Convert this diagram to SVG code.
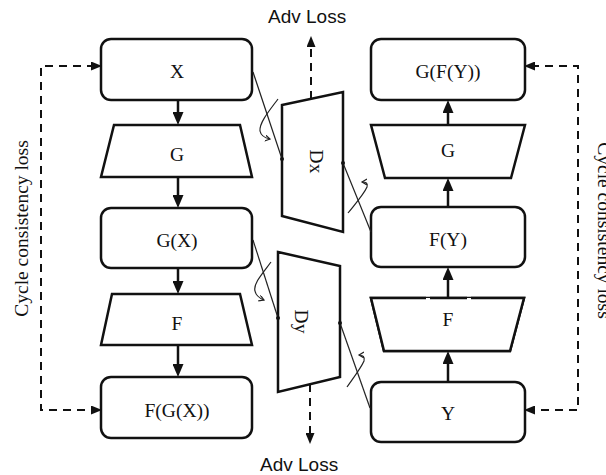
<svg xmlns="http://www.w3.org/2000/svg" width="606" height="475" viewBox="0 0 606 475">
  <style>
    .box { fill: #fff; stroke: #111; stroke-width: 2.5; }
    .lbl { font-family: "Liberation Serif", "Times New Roman", serif; font-size: 19.5px; fill: #111; text-anchor: middle; }
    .adv { font-family: "Liberation Sans", Arial, sans-serif; font-size: 19px; fill: #111; }
    .flow { fill: none; stroke: #111; stroke-width: 2.5; }
    .dash { fill: none; stroke: #111; stroke-width: 2; stroke-dasharray: 8 6; }
    .thin { fill: none; stroke: #222; stroke-width: 1.2; }
    .dot { fill: #111; }
  </style>
  <defs>
    <marker id="solid" markerUnits="userSpaceOnUse" markerWidth="13" markerHeight="11" refX="5" refY="5.5" orient="auto-start-reverse">
      <path d="M0,0 L13,5.5 L0,11 z" fill="#111"/>
    </marker>
    <marker id="dashhead" markerUnits="userSpaceOnUse" markerWidth="11" markerHeight="9" refX="4" refY="4.5" orient="auto-start-reverse">
      <path d="M0,0 L11,4.5 L0,9 z" fill="#111"/>
    </marker>
    <marker id="open" markerUnits="userSpaceOnUse" markerWidth="7" markerHeight="7" refX="5" refY="3" orient="auto">
      <path d="M0,0 L5,3 L0,6" fill="none" stroke="#222" stroke-width="1.2"/>
    </marker>
  </defs>

  <!-- left chain: X -> G -> G(X) -> F -> F(G(X)) -->
  <g id="node-x">
    <rect class="box" x="101" y="39" width="151" height="61" rx="10"/>
    <text class="lbl" x="177" y="78">X</text>
  </g>
  <g id="node-g-left">
    <polygon class="box" points="114,125 240,125 252,177 101,177"/>
    <text class="lbl" x="177" y="161">G</text>
  </g>
  <g id="node-gx">
    <rect class="box" x="101" y="208" width="151" height="60" rx="10"/>
    <text class="lbl" x="177" y="247">G(X)</text>
  </g>
  <g id="node-f-left">
    <polygon class="box" points="112,294 240,294 252,345 101,345"/>
    <text class="lbl" x="177" y="330">F</text>
  </g>
  <g id="node-fgx">
    <rect class="box" x="101" y="377" width="151" height="61" rx="10"/>
    <text class="lbl" x="177" y="417">F(G(X))</text>
  </g>

  <!-- right chain: Y -> F -> F(Y) -> G -> G(F(Y)) -->
  <g id="node-gfy">
    <rect class="box" x="371" y="39" width="154" height="61" rx="10"/>
    <text class="lbl" x="448" y="78">G(F(Y))</text>
  </g>
  <g id="node-g-right">
    <polygon class="box" points="371,125 525,125 511,178 385,178"/>
    <text class="lbl" x="448" y="157">G</text>
  </g>
  <g id="node-fy">
    <rect class="box" x="371" y="207" width="154" height="60" rx="10"/>
    <text class="lbl" x="448" y="246">F(Y)</text>
  </g>
  <g id="node-f-right">
    <polygon class="box" points="384,351 510,351 524,298 371,298" stroke="none"/>
    <path class="box" fill="none" d="M426,298 H371 L384,351 H510 L524,298 H471 M467,298 H430"/>
    <text class="lbl" x="448" y="326">F</text>
  </g>
  <g id="node-y">
    <rect class="box" x="371" y="382" width="154" height="60" rx="10"/>
    <text class="lbl" x="448" y="420">Y</text>
  </g>

  <!-- discriminators -->
  <g id="node-dx">
    <polygon class="box" points="282,105 343,92 343,232 282,216"/>
    <text class="lbl" transform="translate(310,161.5) rotate(90)">Dx</text>
  </g>
  <g id="node-dy">
    <polygon class="box" points="278,252 340,266 340,377 278,392"/>
    <text class="lbl" transform="translate(295,321.5) rotate(90)">Dy</text>
  </g>

  <!-- loss labels -->
  <g id="label-adv-top"><text class="adv" x="268" y="23">Adv Loss</text></g>
  <g id="label-adv-bottom"><text class="adv" x="260" y="471">Adv Loss</text></g>
  <g id="label-cycle-left"><text class="lbl" transform="translate(28,228.5) rotate(-90)">Cycle consistency loss</text></g>
  <g id="label-cycle-right"><text class="lbl" transform="translate(598,230.5) rotate(90)">Cycle consistency loss</text></g>

  <g id="connectors">
    <!-- generator flow, left -->
    <line class="flow" x1="178" y1="100" x2="178" y2="117" marker-end="url(#solid)"/>
    <line class="flow" x1="178" y1="177" x2="178" y2="200" marker-end="url(#solid)"/>
    <line class="flow" x1="178" y1="268" x2="178" y2="286" marker-end="url(#solid)"/>
    <line class="flow" x1="178" y1="345" x2="178" y2="369" marker-end="url(#solid)"/>
    <!-- generator flow, right (upwards) -->
    <line class="flow" x1="448" y1="125" x2="448" y2="108" marker-end="url(#solid)"/>
    <line class="flow" x1="448" y1="207" x2="448" y2="186" marker-end="url(#solid)"/>
    <line class="flow" x1="448" y1="298" x2="448" y2="275" marker-end="url(#solid)"/>
    <line class="flow" x1="448" y1="382" x2="448" y2="359" marker-end="url(#solid)"/>

    <!-- cycle consistency loops -->
    <path class="dash" d="M95,66 H41 V410 H95" marker-start="url(#dashhead)" marker-end="url(#dashhead)"/>
    <path class="dash" d="M531,66 H578 V410 H531" marker-start="url(#dashhead)" marker-end="url(#dashhead)"/>

    <!-- adversarial loss outputs -->
    <line class="dash" x1="311" y1="99" x2="311" y2="43" marker-end="url(#dashhead)"/>
    <line class="dash" x1="310" y1="384" x2="310" y2="437" marker-end="url(#dashhead)"/>

    <!-- discriminator inputs -->
    <line class="thin" x1="253" y1="72" x2="282" y2="159"/>
    <circle class="dot" cx="282" cy="159" r="2"/>
    <path class="thin" d="M278,99 C269,111 259,123 260,131 C261,136 265,138 270,139" marker-end="url(#open)"/>

    <line class="thin" x1="253" y1="240" x2="278" y2="318"/>
    <circle class="dot" cx="278" cy="318" r="2"/>
    <path class="thin" d="M271,262 C262,274 253,284 255,291 C256,296 259,298 264,300" marker-end="url(#open)"/>

    <line class="thin" x1="343" y1="163" x2="371" y2="232"/>
    <circle class="dot" cx="343" cy="163" r="2"/>
    <path class="thin" d="M348,213 C356,203 364,194 367,187 C368,183 366,182 362,182" marker-end="url(#open)"/>

    <line class="thin" x1="340" y1="323" x2="370" y2="408"/>
    <circle class="dot" cx="340" cy="323" r="2"/>
    <path class="thin" d="M347,387 C354,377 361,368 364,361 C365,357 363,355 359,355" marker-end="url(#open)"/>
  </g>
</svg>
